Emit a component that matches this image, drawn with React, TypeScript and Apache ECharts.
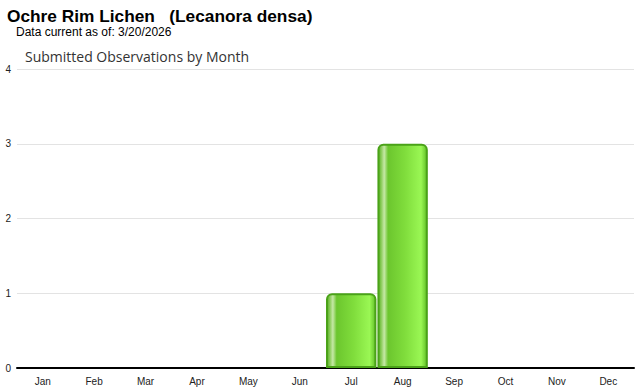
import React, { useEffect, useRef } from "react";
import * as echarts from "echarts";

const months = ["Jan", "Feb", "Mar", "Apr", "May", "Jun", "Jul", "Aug", "Sep", "Oct", "Nov", "Dec"];
const observations = [0, 0, 0, 0, 0, 0, 1, 3, 0, 0, 0, 0];
const yTicks = { min: 0, max: 4, interval: 1 };

export default function App() {
  const ref = useRef<HTMLDivElement>(null);
  useEffect(() => {
    if (!ref.current) return;
    const chart = echarts.init(ref.current, null, { renderer: "svg" });
    const grad = new echarts.graphic.LinearGradient(0, 0, 1, 0, [
      { offset: 0, color: "#56b222" },
      { offset: 0.06, color: "#8ccc5c" },
      { offset: 0.12, color: "#c6e8a6" },
      { offset: 0.2, color: "#6cc62e" },
      { offset: 0.55, color: "#80dd3c" },
      { offset: 0.88, color: "#9af754" },
      { offset: 1, color: "#62c028" },
    ]);
    chart.setOption({
      animation: false,
      title: [
        {
          text: "Ochre Rim Lichen   (Lecanora densa)",
          left: 7,
          top: 7,
          padding: 0,
          textStyle: { fontFamily: "Arial, Liberation Sans", fontSize: 17.3, fontWeight: "bold", color: "#000" },
        },
        {
          text: "Data current as of: 3/20/2026",
          left: 16,
          top: 26,
          padding: 0,
          textStyle: { fontFamily: "Arial, Liberation Sans", fontSize: 12, fontWeight: "normal", color: "#000" },
        },
        {
          text: "Submitted Observations by Month",
          left: 25,
          top: 49,
          padding: 0,
          textStyle: { fontFamily: "Open Sans, Noto Sans", fontSize: 14, fontWeight: "normal", color: "#333" },
        },
      ],
      grid: { left: 17, right: 6, top: 69, bottom: 22, containLabel: false },
      xAxis: {
        type: "category",
        data: months,
        axisLine: { lineStyle: { color: "#000", width: 2 } },
        axisTick: { alignWithLabel: true, length: 4, lineStyle: { color: "#ccc" } },
        axisLabel: { fontFamily: "Arial, Liberation Sans", fontSize: 10, color: "#222", margin: 8 },
      },
      yAxis: {
        type: "value",
        min: yTicks.min,
        max: yTicks.max,
        interval: yTicks.interval,
        axisLine: { show: false },
        axisTick: { show: false },
        axisLabel: { fontFamily: "Arial, Liberation Sans", fontSize: 10, color: "#222", margin: 6 },
        splitLine: { lineStyle: { color: "#e3e3e3", width: 1 } },
      },
      series: [
        {
          type: "bar",
          data: observations.map((v) => (v === 0 ? null : v)),
          barCategoryGap: "2%",
          z: 1,
          itemStyle: {
            color: grad,
            borderColor: "#4aa218",
            borderWidth: 2,
            borderRadius: [5, 5, 0, 0],
          },
        },
      ],
    });
    return () => chart.dispose();
  }, []);
  return <div ref={ref} style={{ width: 640, height: 390, position: "absolute", left: 0, top: 0, background: "#fff" }} />;
}
